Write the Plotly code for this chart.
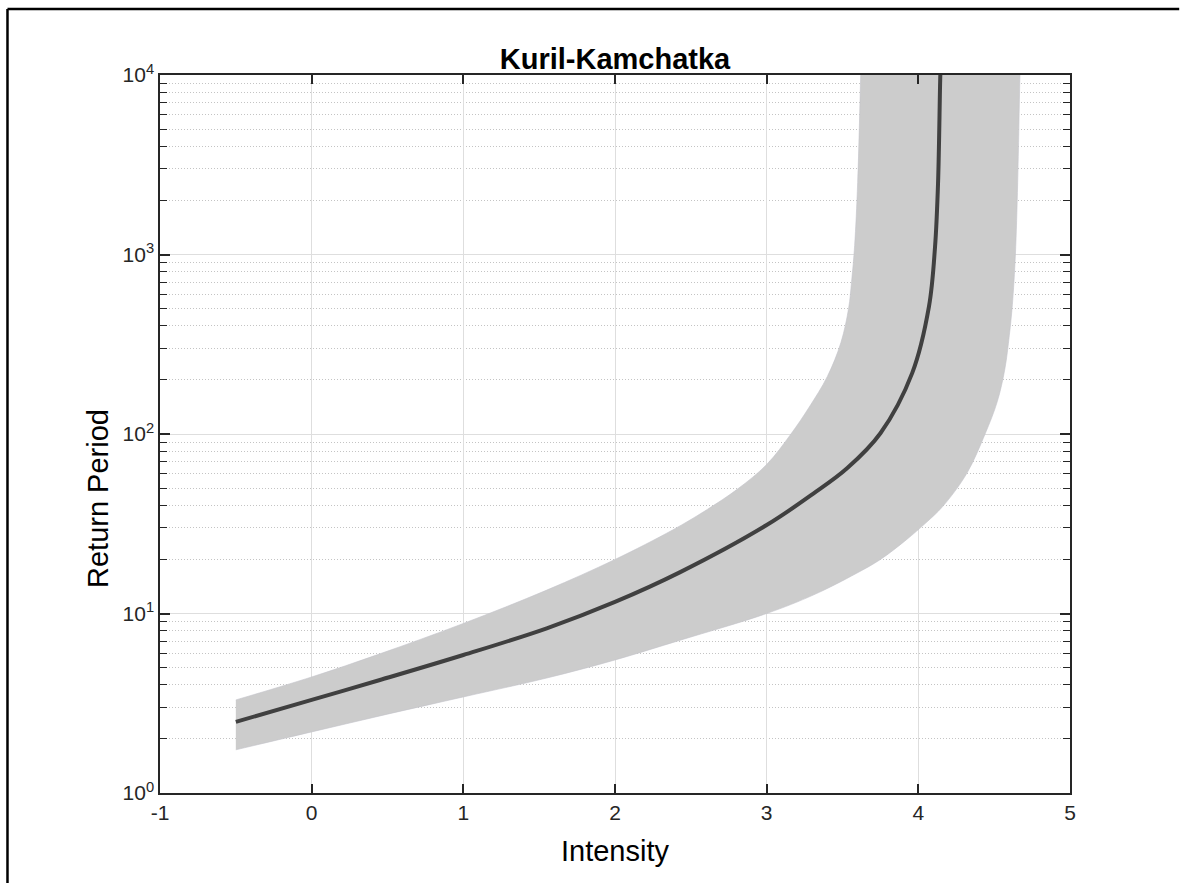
import plotly.graph_objects as go

# Central return-period curve (intensity -> return period, years)
mid_intensity = [-0.5, 0.0, 0.45, 1.0, 1.55, 2.0, 2.43, 3.0, 3.31, 3.53, 3.75, 3.96, 4.07, 4.11, 4.13, 4.145, 4.15]
mid_period = [2.49, 3.3, 4.26, 5.87, 8.27, 11.6, 17.0, 31.1, 46.7, 64.4, 101, 219, 512, 1100, 2500, 10000, 13000]

# Upper confidence limit
up_intensity = [-0.5, 0.0, 0.45, 1.0, 1.55, 2.0, 2.38, 2.6, 2.81, 3.0, 3.16, 3.28, 3.40, 3.49, 3.54, 3.56, 3.58, 3.60, 3.62, 3.63]
up_period = [3.3, 4.43, 5.96, 8.8, 13.5, 20, 29.2, 37.6, 49.5, 67.6, 100, 141, 209, 324, 500, 708, 1122, 2512, 10000, 20000]

# Lower confidence limit
low_intensity = [-0.5, 0.0, 0.5, 1.0, 1.55, 2.0, 2.43, 3.0, 3.31, 3.59, 3.75, 3.92, 4.05, 4.16, 4.32, 4.44, 4.52, 4.57, 4.60, 4.62, 4.64, 4.655, 4.67, 4.68]
low_period = [1.74, 2.19, 2.75, 3.43, 4.37, 5.51, 7.1, 10.0, 12.7, 16.7, 20.0, 25.7, 32, 39.4, 60.4, 100, 151, 229, 355, 525, 1000, 2512, 10000, 20000]

x_ticks = [-1, 0, 1, 2, 3, 4, 5]
y_ticks = [1, 10, 100, 1000, 10000]
y_ticktext = ["10<sup>0</sup>", "10<sup>1</sup>", "10<sup>2</sup>", "10<sup>3</sup>", "10<sup>4</sup>"]
y_minor = [m * 10 ** d for d in range(4) for m in range(2, 10)]

INK = "#262626"
FONT = "Liberation Sans, Arial, Helvetica, sans-serif"
EDGE = dict(color="#c2c2ca", width=0.6, shape="spline", smoothing=1.0)

fig = go.Figure()

# Confidence band: lower limit first, then upper limit filled back to it
fig.add_trace(go.Scatter(
    x=low_intensity, y=low_period, mode="lines", line=EDGE,
    hoverinfo="skip", showlegend=False,
))
fig.add_trace(go.Scatter(
    x=up_intensity, y=up_period, mode="lines", line=EDGE,
    fill="tonexty", fillcolor="#cccccc",
    hoverinfo="skip", showlegend=False,
))

fig.add_trace(go.Scatter(
    x=mid_intensity, y=mid_period, mode="lines",
    line=dict(color="#404040", width=4, shape="spline", smoothing=1.0),
    showlegend=False,
))

fig.update_layout(
    width=1180, height=883,
    margin=dict(l=160, r=110, t=75, b=90),
    paper_bgcolor="white", plot_bgcolor="white",
    font=dict(family=FONT, color=INK, size=21),
    title=dict(
        text="<b>Kuril-Kamchatka</b>", x=0.5, xref="paper", xanchor="center",
        y=1.0, yref="paper", yanchor="bottom", pad=dict(b=6),
        font=dict(family=FONT, size=29, color="#000000"),
    ),
    xaxis=dict(
        range=[-1, 5], tickvals=x_ticks, ticktext=[str(v) for v in x_ticks],
        showgrid=True, gridcolor="#dedede", gridwidth=1,
        ticks="inside", ticklen=9, tickwidth=1.5, tickcolor=INK,
        showline=True, linecolor=INK, linewidth=1.5, mirror="ticks",
        zeroline=False,
        tickfont=dict(size=21, color=INK),
        title=dict(text="Intensity", font=dict(size=29, color="#000000"), standoff=18),
    ),
    yaxis=dict(
        type="log", range=[0, 4], tickvals=y_ticks, ticktext=y_ticktext,
        showgrid=True, gridcolor="#dedede", gridwidth=1,
        ticks="inside", ticklen=10, tickwidth=1.5, tickcolor=INK,
        showline=True, linecolor=INK, linewidth=1.5, mirror="ticks",
        zeroline=False,
        tickfont=dict(size=21, color=INK),
        minor=dict(
            tickmode="array", tickvals=y_minor, ticks="inside", ticklen=7,
            tickwidth=1.2, tickcolor=INK, showgrid=True,
            gridcolor="#c4c4c4", griddash="1px,2px", gridwidth=1,
        ),
    ),
    annotations=[
        dict(text="Return Period", textangle=-90, xref="paper", yref="paper",
             x=(98 - 160) / 910, y=(793 - 499) / 718, xanchor="center", yanchor="middle",
             showarrow=False, font=dict(family=FONT, size=29, color="#000000")),
    ],
    shapes=[
        # frame lines along the top and left edges of the figure
        dict(type="line", xref="paper", yref="paper", x0=-0.1676, x1=1.12,
             y0=1.0919, y1=1.0919, line=dict(color="#000000", width=2.5)),
        dict(type="line", xref="paper", yref="paper", x0=-0.1676, x1=-0.1676,
             y0=1.0919, y1=-0.13, line=dict(color="#000000", width=2.5)),
    ],
)

fig.write_html("out.html")
